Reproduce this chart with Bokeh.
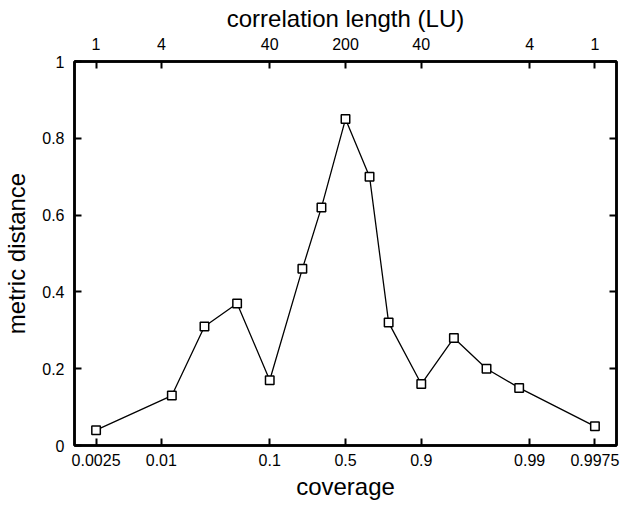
import math
from bokeh.plotting import figure
from bokeh.models import LinearAxis, FixedTicker, Range1d, ColumnDataSource
from bokeh.embed import file_html
from bokeh.resources import INLINE

# ---- data ----
coverage_tick_labels = ["0.0025", "0.01", "0.1", "0.5", "0.9", "0.99", "0.9975"]
corr_tick_values = [1, 4, 40, 200, 40, 4, 1]          # correlation length (LU) at each tick
tick_side = [-1, -1, -1, 0, 1, 1, 1]                  # below / at / above coverage 0.5

point_corr_length = [1, 5, 10, 20, 40, 80, 120, 200, 120, 80, 40, 20, 10, 5, 1]
point_side = [-1, -1, -1, -1, -1, -1, -1, 0, 1, 1, 1, 1, 1, 1, 1]
metric_distance = [0.04, 0.13, 0.31, 0.37, 0.17, 0.46, 0.62, 0.85,
                   0.70, 0.32, 0.16, 0.28, 0.20, 0.15, 0.05]

y_ticks = [0, 0.2, 0.4, 0.6, 0.8, 1]
y_tick_labels = ["0", "0.2", "0.4", "0.6", "0.8", "1"]

L_MAX = max(corr_tick_values)


def pos(length, side):
    # signed decades of correlation length away from the maximum
    return side * (math.log10(L_MAX) - math.log10(length))


tick_pos = [pos(l, s) for l, s in zip(corr_tick_values, tick_side)]
xs = [pos(l, s) for l, s in zip(point_corr_length, point_side)]

FONT = "Liberation Sans"

p = figure(width=620, height=506, output_backend="svg", toolbar_location=None,
           x_range=Range1d(-2.5, 2.5), y_range=Range1d(0, 1),
           x_axis_location=None, y_axis_location=None,
           min_border_left=73, min_border_right=4, min_border_top=61, min_border_bottom=61)
p.background_fill_color = "white"
p.border_fill_color = "white"
p.grid.visible = False
p.outline_line_color = "black"
p.outline_line_width = 2.5
p.outline_line_alpha = 1


def style(ax):
    ax.axis_line_color = "black"
    ax.axis_line_width = 2.5
    ax.major_tick_in = 7
    ax.major_tick_out = 0
    ax.major_tick_line_width = 2
    ax.minor_tick_line_color = None
    ax.major_label_text_font = FONT
    ax.major_label_text_font_size = "16px"
    ax.major_label_text_color = "black"
    ax.axis_label_text_font = FONT
    ax.axis_label_text_font_size = "24px"
    ax.axis_label_text_font_style = "normal"
    ax.axis_label_text_color = "black"


bottom = LinearAxis(ticker=FixedTicker(ticks=tick_pos), axis_label="coverage")
bottom.major_label_overrides = {t: lab for t, lab in zip(tick_pos, coverage_tick_labels)}
style(bottom)
bottom.major_label_standoff = 8
bottom.axis_label_standoff = 4
p.add_layout(bottom, "below")

top = LinearAxis(ticker=FixedTicker(ticks=tick_pos), axis_label="correlation length (LU)")
top.major_label_overrides = {t: str(v) for t, v in zip(tick_pos, corr_tick_values)}
style(top)
top.major_label_standoff = 12
top.axis_label_standoff = 3
p.add_layout(top, "above")

left = LinearAxis(ticker=FixedTicker(ticks=y_ticks), axis_label="metric distance")
left.major_label_overrides = {t: lab for t, lab in zip(y_ticks, y_tick_labels)}
style(left)
left.major_label_standoff = 10
left.axis_label_standoff = 9
p.add_layout(left, "left")

right = LinearAxis(ticker=FixedTicker(ticks=y_ticks))
style(right)
right.major_label_overrides = {t: "" for t in y_ticks}
right.major_label_text_font_size = "0px"
right.major_label_standoff = 0
p.add_layout(right, "right")

src = ColumnDataSource(data=dict(x=xs, y=metric_distance))
p.line("x", "y", source=src, line_color="black", line_width=1.3)
p.scatter("x", "y", source=src, marker="square", size=8.5, fill_color="white",
          line_color="black", line_width=1.5)

open("out.html", "w").write(file_html(p, INLINE))
